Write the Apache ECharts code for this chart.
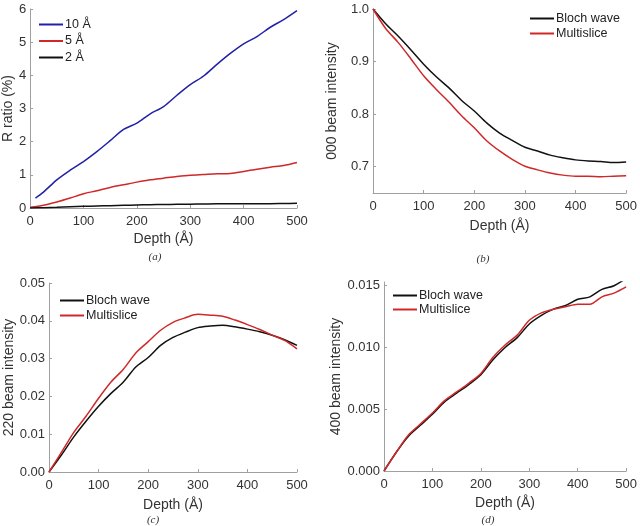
<!DOCTYPE html>
<html>
<head>
<meta charset="utf-8">
<script src="https://cdn.jsdelivr.net/npm/echarts@6/dist/echarts.min.js"></script>
<style>
  html, body { margin: 0; padding: 0; background: #fff; }
  #main { width: 640px; height: 526px; }
</style>
</head>
<body>
<div id="main"></div>
<script>
var FONT = '"Liberation Sans", Arial, sans-serif';

// depth samples (Å)
var depth = [0, 25, 50, 75, 100, 125, 150, 175, 200, 225, 250, 275, 300, 325, 350, 375, 400, 425, 450, 475, 500];
var depthBlue = [10, 25, 50, 75, 100, 125, 150, 175, 200, 225, 250, 275, 300, 325, 350, 375, 400, 425, 450, 475, 500];

// (a) R ratio (%)
var r10 = [0.30, 0.48, 0.85, 1.14, 1.40, 1.70, 2.03, 2.37, 2.56, 2.84, 3.06, 3.40, 3.72, 3.98, 4.33, 4.66, 4.95, 5.17, 5.45, 5.68, 5.95];
var r5 = [0.02, 0.08, 0.18, 0.30, 0.43, 0.52, 0.62, 0.70, 0.78, 0.85, 0.90, 0.95, 0.99, 1.01, 1.03, 1.04, 1.10, 1.17, 1.23, 1.28, 1.37];
var r2 = [0.00, 0.01, 0.02, 0.035, 0.05, 0.06, 0.07, 0.08, 0.09, 0.10, 0.105, 0.11, 0.115, 0.12, 0.125, 0.125, 0.125, 0.13, 0.13, 0.135, 0.14];

// (b) 000 beam intensity
var b000 = [1.000, 0.972, 0.948, 0.922, 0.895, 0.871, 0.850, 0.826, 0.806, 0.783, 0.764, 0.750, 0.737, 0.730, 0.722, 0.717, 0.713, 0.711, 0.710, 0.708, 0.709];
var m000 = [1.000, 0.963, 0.936, 0.905, 0.873, 0.847, 0.823, 0.797, 0.774, 0.749, 0.730, 0.714, 0.701, 0.694, 0.688, 0.684, 0.682, 0.682, 0.681, 0.682, 0.683];

// (c) 220 beam intensity
var b220 = [0, 0.0045, 0.0093, 0.0135, 0.0174, 0.0208, 0.0238, 0.0278, 0.0303, 0.0335, 0.0356, 0.0370, 0.0382, 0.0386, 0.0388, 0.0384, 0.0378, 0.0371, 0.0362, 0.0350, 0.0335];
var m220 = [0, 0.0052, 0.0105, 0.0148, 0.0195, 0.0238, 0.0272, 0.0315, 0.0345, 0.0375, 0.0396, 0.0408, 0.0417, 0.0415, 0.0412, 0.0402, 0.0390, 0.0377, 0.0362, 0.0348, 0.0326];

// (d) 400 beam intensity
var b400 = [0, 0.0015, 0.0028, 0.0037, 0.0046, 0.0056, 0.0063, 0.0070, 0.0078, 0.0090, 0.0100, 0.0108, 0.0119, 0.0126, 0.0131, 0.0134, 0.0139, 0.0141, 0.0147, 0.0150, 0.0156];
var m400 = [0, 0.0015, 0.0029, 0.0038, 0.0047, 0.0057, 0.0064, 0.0071, 0.0079, 0.0092, 0.0102, 0.0110, 0.0122, 0.0128, 0.0131, 0.0133, 0.0135, 0.0135, 0.0141, 0.0144, 0.0149];

// tick labels
var xTicks = [0, 100, 200, 300, 400, 500];
var yTicksA = [0, 1, 2, 3, 4, 5, 6];
var yTicksB = [0.7, 0.8, 0.9, 1.0];
var yTicksC = [0, 0.01, 0.02, 0.03, 0.04, 0.05];
var yTicksD = [0, 0.005, 0.010, 0.015];

function pairs(xs, ys) {
  return xs.map(function (x, i) { return [x, ys[i]]; });
}

var chart = echarts.init(document.getElementById('main'));

var axisLine = { lineStyle: { color: '#a0a0a0', width: 1 } };
var axisTick = { inside: true, length: 3, lineStyle: { color: '#a0a0a0' } };

function xAxis(idx, gap) {
  return {
    type: 'value', gridIndex: idx, min: 0, max: 500,
    name: 'Depth (Å)', nameLocation: 'middle', nameGap: gap,
    nameTextStyle: { fontFamily: FONT, fontSize: 14, color: '#333' },
    axisLine: axisLine,
    axisTick: Object.assign({ customValues: xTicks }, axisTick),
    axisLabel: { customValues: xTicks, fontFamily: FONT, fontSize: 13, color: '#333', margin: 7 },
    splitLine: { show: false }
  };
}

function yAxis(idx, name, min, max, ticks, dec, gap) {
  return {
    type: 'value', gridIndex: idx, min: min, max: max,
    name: name, nameLocation: 'middle', nameGap: gap, nameRotate: 90,
    nameTextStyle: { fontFamily: FONT, fontSize: 14, color: '#333' },
    axisLine: { show: true, lineStyle: { color: '#a0a0a0', width: 1 } },
    axisTick: Object.assign({ show: true, customValues: ticks }, axisTick),
    axisLabel: {
      customValues: ticks, fontFamily: FONT, fontSize: 13, color: '#333', margin: 4,
      formatter: function (v) { return v.toFixed(dec); }
    },
    splitLine: { show: false }
  };
}

function line(name, idx, data, color) {
  return {
    name: name, type: 'line', xAxisIndex: idx, yAxisIndex: idx,
    data: data, symbol: 'none', smooth: 0.3,
    lineStyle: { color: color, width: 1.5 }, itemStyle: { color: color },
    animation: false
  };
}

function legend(names, left, top, gap) {
  return {
    data: names, orient: 'vertical', left: left, top: top, padding: 0,
    itemGap: gap, itemWidth: 24, itemHeight: 2, icon: 'rect',
    textStyle: { fontFamily: FONT, fontSize: 12.5, color: '#222', padding: [0, 0, 0, -3] },
    selectedMode: false
  };
}

var BLUE = '#2020a8', RED = '#d02828', BLACK = '#111111';

option = {
  backgroundColor: '#fff',
  animation: false,
  grid: [
    { left: 29, top: 9, width: 268, height: 199 },
    { left: 373, top: 9, width: 254, height: 184 },
    { left: 49, top: 283, width: 248, height: 189 },
    { left: 384, top: 282, width: 245, height: 189 }
  ],
  xAxis: [xAxis(0, 24), xAxis(1, 26), xAxis(2, 26), xAxis(3, 25)],
  yAxis: [
    yAxis(0, 'R ratio (%)', 0, 6, yTicksA, 0, 12),
    yAxis(1, '000 beam intensity', 0.65, 1.0, yTicksB, 1, 34),
    yAxis(2, '220 beam intensity', 0, 0.05, yTicksC, 2, 32),
    yAxis(3, '400 beam intensity', 0, 0.0153, yTicksD, 3, 39)
  ],
  legend: [
    legend(['10 Å', '5 Å', '2 Å'], 39, 18, 3.5),
    legend(['Bloch wave', 'Multislice'], 530, 12, 2),
    legend(['Bloch wave', 'Multislice'], 60, 294, 2),
    legend(['Bloch wave', 'Multislice'], 393, 289, 1)
  ],
  series: [
    line('10 Å', 0, pairs(depthBlue, r10), BLUE),
    line('5 Å', 0, pairs(depth, r5), RED),
    line('2 Å', 0, pairs(depth, r2), BLACK),
    line('Bloch wave', 1, pairs(depth, b000), BLACK),
    line('Multislice', 1, pairs(depth, m000), RED),
    line('Bloch wave', 2, pairs(depth, b220), BLACK),
    line('Multislice', 2, pairs(depth, m220), RED),
    line('Bloch wave', 3, pairs(depth, b400), BLACK),
    line('Multislice', 3, pairs(depth, m400), RED)
  ],
  graphic: [
    { type: 'text', x: 155, y: 257, style: { text: '(a)', font: 'italic 11px "Liberation Serif", serif', fill: '#333', align: 'center', verticalAlign: 'middle' } },
    { type: 'text', x: 483, y: 259, style: { text: '(b)', font: 'italic 11px "Liberation Serif", serif', fill: '#333', align: 'center', verticalAlign: 'middle' } },
    { type: 'text', x: 153, y: 520, style: { text: '(c)', font: 'italic 11px "Liberation Serif", serif', fill: '#333', align: 'center', verticalAlign: 'middle' } },
    { type: 'text', x: 488, y: 520, style: { text: '(d)', font: 'italic 11px "Liberation Serif", serif', fill: '#333', align: 'center', verticalAlign: 'middle' } }
  ]
};

chart.setOption(option);
</script>
</body>
</html>
